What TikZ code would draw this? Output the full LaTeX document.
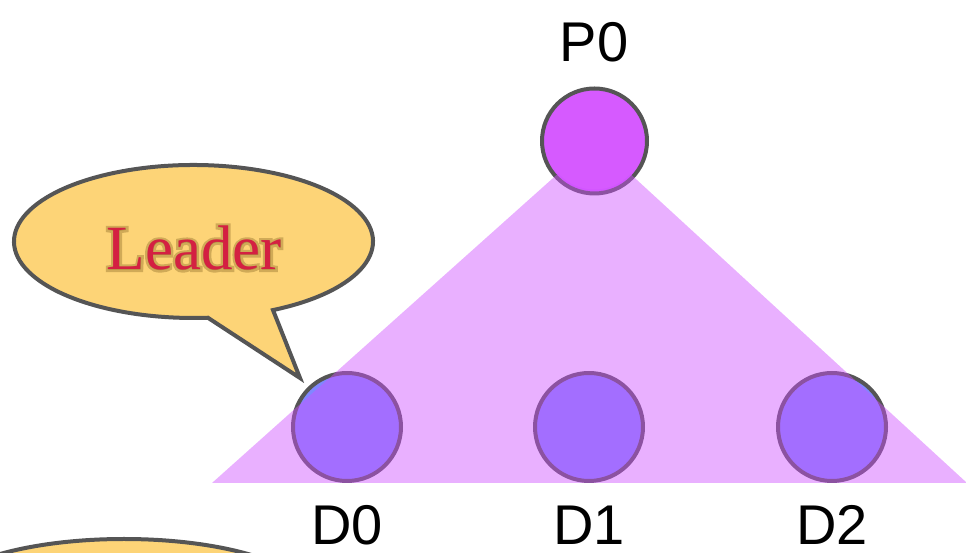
\documentclass[tikz,border=0pt]{standalone}
\usepackage{fontspec}
\newfontfamily\labelfont{Liberation Sans}
\newfontfamily\calloutfont{Liberation Serif}
\newfontfamily\glowfont[FakeBold=8]{Liberation Serif}
\definecolor{calloutfill}{HTML}{FDD477}
\definecolor{outline}{HTML}{555555}
\definecolor{pfill}{HTML}{D65AFF}
\definecolor{dfill}{HTML}{8087FF}
\definecolor{trifill}{HTML}{CF50FF}
\definecolor{leadertext}{HTML}{D42042}
\definecolor{glow}{HTML}{6A4A10}
\tikzset{
  callout/.style={fill=calloutfill, draw=outline, line width=4pt, line join=miter},
  pnode/.style={circle, fill=pfill, draw=outline, line width=4pt, minimum size=105pt, inner sep=0pt},
  dnode/.style={circle, fill=dfill, draw=outline, line width=4pt, minimum size=108pt, inner sep=0pt},
  lbl/.style={font=\labelfont\fontsize{56}{60}\selectfont, text=black, inner sep=0pt},
  leaderfont/.style={font=\calloutfont\fontsize{63}{68}\selectfont, inner sep=0pt},
  glowstyle/.style={font=\glowfont\fontsize{63}{68}\selectfont, inner sep=0pt, text=glow, text opacity=0.3},
  tri/.style={fill=trifill, fill opacity=0.45, draw=none}
}
\begin{document}
\begin{tikzpicture}[x=1pt,y=1pt]
\useasboundingbox (0,0) rectangle (966,553);
\clip (0,0) rectangle (966,553);
% bottom-left partially visible callout
\draw[callout] (124,-48) ellipse [x radius=190, y radius=62];
% Leader callout
\coordinate (tip) at (300,175);
\draw[callout] (193.5,311.5) ++(-63.7:179.5 and 76.5) coordinate (rb)
  arc[start angle=-63.7, end angle=274.6, x radius=179.5, y radius=76.5] coordinate (lb)
  -- (tip) -- cycle;
\coordinate (leaderpos) at (194,305);
\node[glowstyle] (leaderglow) at (leaderpos) {Leader};
\node[leaderfont, text=leadertext] (leader) at (leaderpos) {Leader};
% circles
\node[pnode] (p0) at (594.5,412) {};
\node[dnode] (d0) at (347,126) {};
\node[dnode] (d1) at (589,126) {};
\node[dnode] (d2) at (832,126) {};
% translucent triangle
\coordinate (tl) at (212,70);
\coordinate (tr) at (967,70);
\fill[tri] (tl) -- (p0.center) -- (tr) -- cycle;
% P0 interior kept uniform
\fill[pfill] (p0.center) circle[radius=48.5];
% labels
\node[lbl] (p0lbl) at (594,511) {P0};
\node[lbl] (d0lbl) at (347,28) {D0};
\node[lbl] (d1lbl) at (589,28) {D1};
\node[lbl] (d2lbl) at (832,28) {D2};
\end{tikzpicture}
\end{document}
